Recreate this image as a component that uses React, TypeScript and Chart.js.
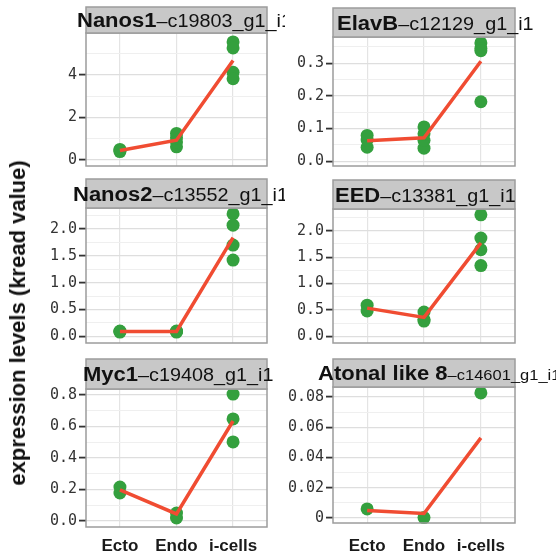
import React, { useEffect, useRef } from 'react';
import { Chart, registerables } from 'chart.js';

Chart.register(...registerables);

// ---------- data ----------
const categories = ['Ecto', 'Endo', 'i-cells'];

const nanos1Points = [[0.40, 0.46, 0.50], [0.62, 0.85, 1.05, 1.25], [5.55, 5.27, 4.12, 3.82]];
const nanos1Line = [0.45, 0.93, 4.68];

const elavBPoints = [[0.043, 0.065, 0.079], [0.040, 0.064, 0.084, 0.105], [0.362, 0.345, 0.338, 0.182]];
const elavBLine = [0.063, 0.072, 0.306];

const nanos2Points = [[0.08, 0.09, 0.10], [0.08, 0.09, 0.10], [2.28, 2.07, 1.70, 1.42]];
const nanos2Line = [0.09, 0.09, 1.84];

const eedPoints = [[0.59, 0.48], [0.46, 0.32, 0.29], [2.30, 1.86, 1.64, 1.34]];
const eedLine = [0.535, 0.36, 1.77];

const myc1Points = [[0.216, 0.178], [0.051, 0.019], [0.806, 0.648, 0.502]];
const myc1Line = [0.197, 0.045, 0.635];

const atonalPoints = [[0.006], [0.0003], [0.0827]];
const atonalLine = [0.005, 0.003, 0.053];

const yTitle = 'expression levels (kread value)';

// ---------- layout / style ----------
const GREEN = 'rgb(52,160,62)';
const RED = 'rgb(240,76,50)';
const FONT = '"Liberation Sans", Arial, sans-serif';
const MONO = '"DejaVu Sans Mono", monospace';

const cols = [
  { canvasLeft: 0, canvasWidth: 285, plotLeft: 86, plotRight: 267 },
  { canvasLeft: 285, canvasWidth: 271, plotLeft: 333, plotRight: 515 },
];
const rows = [
  { canvasTop: 0, canvasHeight: 177 },
  { canvasTop: 177, canvasHeight: 177 },
  { canvasTop: 354, canvasHeight: 202 },
];

type Panel = {
  gene: string; suffix: string; suffixSize: number; titleX: number;
  points: number[][]; line: number[];
  yMin: number; yMax: number; step: number; decimals: number; zeroPlain?: boolean;
  col: number; row: number; stripTop: number; plotTop: number; plotBottom: number;
};

const panels: Panel[] = [
  { gene: 'Nanos1', suffix: '–c19803_g1_i1', suffixSize: 18, titleX: 77, points: nanos1Points, line: nanos1Line,
    yMin: -0.28, yMax: 5.97, step: 2, decimals: 0, col: 0, row: 0, stripTop: 7, plotTop: 33, plotBottom: 169 },
  { gene: 'ElavB', suffix: '–c12129_g1_i1', suffixSize: 18, titleX: 337, points: elavBPoints, line: elavBLine,
    yMin: -0.0144, yMax: 0.38, step: 0.1, decimals: 1, col: 1, row: 0, stripTop: 8, plotTop: 37, plotBottom: 174 },
  { gene: 'Nanos2', suffix: '–c13552_g1_i1', suffixSize: 18, titleX: 73, points: nanos2Points, line: nanos2Line,
    yMin: -0.124, yMax: 2.39, step: 0.5, decimals: 1, col: 0, row: 1, stripTop: 179, plotTop: 208, plotBottom: 350 },
  { gene: 'EED', suffix: '–c13381_g1_i1', suffixSize: 18, titleX: 335, points: eedPoints, line: eedLine,
    yMin: -0.125, yMax: 2.41, step: 0.5, decimals: 1, col: 1, row: 1, stripTop: 180, plotTop: 209, plotBottom: 351 },
  { gene: 'Myc1', suffix: '–c19408_g1_i1', suffixSize: 18, titleX: 83, points: myc1Points, line: myc1Line,
    yMin: -0.038, yMax: 0.838, step: 0.2, decimals: 1, col: 0, row: 2, stripTop: 359, plotTop: 389, plotBottom: 527 },
  { gene: 'Atonal like 8', suffix: '–c14601_g1_i1', suffixSize: 15, titleX: 318, points: atonalPoints, line: atonalLine,
    yMin: -0.0033, yMax: 0.0866, step: 0.02, decimals: 2, zeroPlain: true, col: 1, row: 2, stripTop: 359, plotTop: 387, plotBottom: 523 },
];

function isMajor(v: number, step: number) {
  const r = v / step;
  return Math.abs(r - Math.round(r)) < 1e-6;
}

function PanelChart({ p }: { p: Panel }) {
  const ref = useRef<HTMLCanvasElement | null>(null);
  const col = cols[p.col];
  const row = rows[p.row];
  const showX = p.row === 2;

  useEffect(() => {
    if (!ref.current) return;
    const half = p.step / 2;
    const scatterData: { x: number; y: number }[] = [];
    p.points.forEach((arr, i) => arr.forEach((y) => scatterData.push({ x: i + 1, y })));
    const lineData = p.line.map((y, i) => ({ x: i + 1, y }));

    const framePlugin = {
      id: 'frame' + p.gene.replace(/\s/g, ''),
      afterDraw(chart: any) {
        const { ctx, chartArea: a } = chart;
        ctx.save();
        ctx.strokeStyle = '#9c9c9c';
        ctx.lineWidth = 1.5;
        ctx.strokeRect(a.left, a.top, a.right - a.left, a.bottom - a.top);
        const sTop = p.stripTop - row.canvasTop;
        ctx.fillStyle = '#c8c8c8';
        ctx.fillRect(a.left, sTop, a.right - a.left, a.top - sTop);
        ctx.strokeStyle = '#9c9c9c';
        ctx.strokeRect(a.left, sTop, a.right - a.left, a.top - sTop);
        const mid = (sTop + a.top) / 2;
        ctx.translate(p.titleX - col.canvasLeft, mid + 7);
        ctx.scale(1.1, 1);
        ctx.fillStyle = '#111';
        ctx.textBaseline = 'alphabetic';
        ctx.textAlign = 'left';
        ctx.font = `bold 20px ${FONT}`;
        ctx.fillText(p.gene, 0, 0);
        const w = ctx.measureText(p.gene).width;
        ctx.font = `${p.suffixSize}px ${FONT}`;
        ctx.fillText(p.suffix, w, 0);
        ctx.restore();
      },
    };

    const chart = new Chart(ref.current, {
      type: 'scatter',
      data: {
        datasets: [
          {
            type: 'line',
            data: lineData,
            borderColor: RED,
            borderWidth: 3.5,
            pointRadius: 0,
            fill: false,
            order: 0,
          } as any,
          {
            type: 'scatter',
            data: scatterData,
            backgroundColor: GREEN,
            borderWidth: 0,
            pointRadius: 6.5,
            clip: false,
            order: 1,
          } as any,
        ],
      },
      options: {
        responsive: false,
        animation: false,
        events: [],
        layout: {
          padding: {
            top: p.plotTop - row.canvasTop,
            right: col.canvasLeft + col.canvasWidth - col.plotRight,
            left: 0,
            bottom: 0,
          },
        },
        plugins: { legend: { display: false }, tooltip: { enabled: false } },
        scales: {
          x: {
            type: 'linear',
            min: 0.4,
            max: 3.6,
            afterBuildTicks: (scale: any) => {
              scale.ticks = [1, 2, 3].map((v) => ({ value: v }));
            },
            afterFit: (scale: any) => {
              scale.height = row.canvasTop + row.canvasHeight - p.plotBottom;
            },
            border: { display: false },
            grid: { color: '#e4e4e4', lineWidth: 1.2, drawTicks: false },
            ticks: {
              display: showX,
              autoSkip: false,
              maxRotation: 0,
              padding: 536 - p.plotBottom,
              color: '#1a1a1a',
              font: { family: FONT, size: 17, weight: 'bold' },
              callback: (v: any) => categories[Math.round(Number(v)) - 1] ?? '',
            },
          },
          y: {
            type: 'linear',
            min: p.yMin,
            max: p.yMax,
            afterBuildTicks: (scale: any) => {
              const t: { value: number }[] = [];
              const k0 = Math.ceil(p.yMin / half - 1e-9);
              const k1 = Math.floor(p.yMax / half + 1e-9);
              for (let k = k0; k <= k1; k++) t.push({ value: Math.round(k * half * 1e6) / 1e6 });
              scale.ticks = t;
            },
            afterFit: (scale: any) => {
              scale.width = col.plotLeft - col.canvasLeft;
            },
            border: { display: false },
            grid: {
              color: (c: any) => (c.tick && isMajor(c.tick.value, p.step) ? '#dedede' : '#efefef'),
              lineWidth: (c: any) => (c.tick && isMajor(c.tick.value, p.step) ? 1.2 : 1),
              tickColor: (c: any) => (c.tick && isMajor(c.tick.value, p.step) ? '#333' : 'rgba(0,0,0,0)'),
              tickWidth: 1.8,
              tickLength: 7,
            },
            ticks: {
              autoSkip: false,
              padding: 2,
              color: '#333',
              font: { family: MONO, size: 15 },
              callback: (v: any) => {
                const n = Number(v);
                if (!isMajor(n, p.step)) return '';
                if (p.zeroPlain && Math.abs(n) < 1e-9) return '0';
                return n.toFixed(p.decimals);
              },
            },
          },
        },
      } as any,
      plugins: [framePlugin],
    });
    return () => chart.destroy();
  }, []);

  return (
    <canvas
      ref={ref}
      width={col.canvasWidth}
      height={row.canvasHeight}
      style={{
        position: 'absolute',
        left: col.canvasLeft,
        top: row.canvasTop,
        width: col.canvasWidth,
        height: row.canvasHeight,
      }}
    />
  );
}

export default function App() {
  return (
    <div
      style={{
        position: 'absolute',
        left: 0,
        top: 0,
        width: 556,
        height: 556,
        background: '#fff',
        overflow: 'hidden',
      }}
    >
      {panels.map((p) => (
        <PanelChart key={p.gene} p={p} />
      ))}
      <div
        style={{
          position: 'absolute',
          left: 18,
          top: 323,
          transform: 'translate(-50%, -50%) rotate(-90deg)',
          whiteSpace: 'nowrap',
          fontFamily: FONT,
          fontWeight: 'bold',
          fontSize: 22,
          color: '#111',
        }}
      >
        {yTitle}
      </div>
    </div>
  );
}
